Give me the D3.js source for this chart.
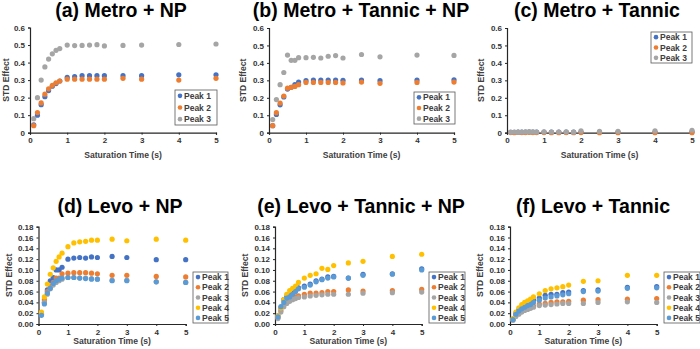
<!DOCTYPE html>
<html>
<head>
<meta charset="utf-8">
<script src="https://cdn.jsdelivr.net/npm/d3@7"></script>
<style>
  body { margin: 0; background: #fff; }
  text { font-family: "Liberation Sans", Arial, sans-serif; font-weight: bold; }
</style>
</head>
<body>
<script>
var width = 700;
var height = 349;

// saturation times (s)
var satTime = [0.1, 0.2, 0.3, 0.4, 0.5, 0.6, 0.7, 0.8, 1.0, 1.2, 1.4, 1.6, 1.8, 2.0, 2.5, 3, 4, 5];
var peakNames = ["Peak 1", "Peak 2", "Peak 3", "Peak 4", "Peak 5"];
var peakColors = ["#4472C4", "#ED7D31", "#A5A5A5", "#FFC000", "#5B9BD5"];
var xTicks = [0, 1, 2, 3, 4, 5];
var topYTicks = [0, 0.1, 0.2, 0.3, 0.4, 0.5, 0.6];
var bottomYTicks = [0, 0.02, 0.04, 0.06, 0.08, 0.10, 0.12, 0.14, 0.16, 0.18];

// (a) Metro + NP
var metroNP1 = [0.045, 0.1, 0.16, 0.205, 0.24, 0.265, 0.28, 0.295, 0.315, 0.32, 0.325, 0.325, 0.325, 0.325, 0.325, 0.325, 0.33, 0.33];
var metroNP2 = [0.04, 0.115, 0.17, 0.22, 0.25, 0.27, 0.285, 0.295, 0.305, 0.305, 0.305, 0.305, 0.305, 0.305, 0.31, 0.305, 0.3, 0.31];
var metroNP3 = [0.08, 0.2, 0.3, 0.375, 0.42, 0.45, 0.47, 0.48, 0.5, 0.497, 0.498, 0.5, 0.502, 0.495, 0.498, 0.5, 0.503, 0.506];

// (b) Metro + Tannic + NP
var metroTanNP1 = [0.04, 0.105, 0.16, 0.205, 0.25, 0.26, 0.275, 0.29, 0.298, 0.302, 0.302, 0.302, 0.302, 0.3, 0.302, 0.298, 0.302, 0.303];
var metroTanNP2 = [0.04, 0.115, 0.17, 0.21, 0.255, 0.26, 0.265, 0.275, 0.288, 0.288, 0.288, 0.288, 0.288, 0.285, 0.29, 0.283, 0.288, 0.29];
var metroTanNP3 = [0.075, 0.19, 0.275, 0.345, 0.445, 0.415, 0.415, 0.43, 0.43, 0.432, 0.428, 0.438, 0.442, 0.428, 0.448, 0.435, 0.445, 0.443];

// (c) Metro + Tannic
var metroTan1 = [0.002, 0.002, 0.003, 0.003, 0.004, 0.004, 0.004, 0.004, 0.004, 0.003, 0.003, 0.003, 0.003, 0.004, 0.004, 0.003, 0.004, 0.005];
var metroTan2 = [0.001, 0, 0.002, 0.001, 0.001, 0.002, 0.001, 0.001, 0.001, 0, 0, 0.001, 0, 0.001, 0, 0, 0, 0];
var metroTan3 = [0.003, 0.004, 0.003, 0.004, 0.005, 0.006, 0.005, 0.004, 0.005, 0.004, 0.004, 0.005, 0.003, 0.01, 0.008, 0.008, 0.01, 0.014];

// (d) Levo + NP
var levoNP1 = [0.018, 0.04, 0.063, 0.08, 0.086, 0.1, 0.1, 0.105, 0.12, 0.122, 0.123, 0.122, 0.124, 0.123, 0.125, 0.123, 0.119, 0.119];
var levoNP2 = [0.02, 0.045, 0.06, 0.07, 0.077, 0.085, 0.085, 0.093, 0.094, 0.095, 0.095, 0.095, 0.094, 0.093, 0.09, 0.09, 0.088, 0.087];
var levoNP3 = [0.018, 0.04, 0.055, 0.065, 0.072, 0.077, 0.08, 0.083, 0.086, 0.086, 0.085, 0.085, 0.084, 0.083, 0.081, 0.081, 0.078, 0.077];
var levoNP4 = [0.022, 0.05, 0.074, 0.092, 0.104, 0.116, 0.124, 0.131, 0.143, 0.15, 0.152, 0.153, 0.155, 0.155, 0.157, 0.154, 0.157, 0.155];
var levoNP5 = [0.016, 0.037, 0.057, 0.066, 0.075, 0.08, 0.083, 0.085, 0.086, 0.086, 0.085, 0.084, 0.083, 0.083, 0.08, 0.08, 0.078, 0.077];

// (e) Levo + Tannic + NP
var levoTanNP1 = [0.015, 0.03, 0.045, 0.05, 0.052, 0.058, 0.063, 0.067, 0.07, 0.074, 0.08, 0.083, 0.087, 0.088, 0.085, 0.092, 0.093, 0.102];
var levoTanNP2 = [0.012, 0.025, 0.035, 0.04, 0.045, 0.047, 0.05, 0.052, 0.055, 0.057, 0.057, 0.058, 0.06, 0.06, 0.063, 0.061, 0.062, 0.064];
var levoTanNP3 = [0.01, 0.022, 0.032, 0.038, 0.042, 0.045, 0.047, 0.049, 0.05, 0.052, 0.053, 0.054, 0.055, 0.055, 0.055, 0.057, 0.058, 0.059];
var levoTanNP4 = [0.015, 0.03, 0.045, 0.055, 0.062, 0.066, 0.07, 0.077, 0.085, 0.09, 0.093, 0.103, 0.101, 0.108, 0.113, 0.116, 0.125, 0.129];
var levoTanNP5 = [0.013, 0.032, 0.04, 0.048, 0.05, 0.055, 0.06, 0.065, 0.068, 0.072, 0.078, 0.082, 0.085, 0.087, 0.085, 0.09, 0.092, 0.1];

// (f) Levo + Tannic
var levoTan1 = [0.009, 0.02, 0.026, 0.03, 0.033, 0.036, 0.038, 0.044, 0.048, 0.053, 0.055, 0.055, 0.058, 0.059, 0.062, 0.063, 0.068, 0.069];
var levoTan2 = [0.008, 0.016, 0.02, 0.024, 0.027, 0.029, 0.031, 0.033, 0.037, 0.038, 0.04, 0.041, 0.041, 0.042, 0.044, 0.045, 0.046, 0.047];
var levoTan3 = [0.007, 0.014, 0.018, 0.022, 0.025, 0.027, 0.029, 0.031, 0.034, 0.035, 0.036, 0.037, 0.038, 0.038, 0.038, 0.04, 0.041, 0.04];
var levoTan4 = [0.01, 0.022, 0.03, 0.036, 0.04, 0.043, 0.046, 0.05, 0.056, 0.062, 0.065, 0.067, 0.069, 0.072, 0.079, 0.08, 0.09, 0.09];
var levoTan5 = [0.008, 0.018, 0.024, 0.028, 0.031, 0.034, 0.036, 0.04, 0.044, 0.048, 0.05, 0.052, 0.054, 0.056, 0.06, 0.061, 0.066, 0.067];

// panel layout: plot box (x0,x1,yTop,yBot), title centre, legend box, axis title offsets
var panels = [
  {title: "(a) Metro + NP", series: [metroNP1, metroNP2, metroNP3], ticks: topYTicks, fmt: d3.format(".1~f"),
   x0: 30, x1: 216, yTop: 27.5, yBot: 132.7, titleX: 121, titleY: 17, legX: 175, legY: 90, legW: 42, legH: 35, xLab: 25, yLab: 21.5},
  {title: "(b) Metro + Tannic + NP", series: [metroTanNP1, metroTanNP2, metroTanNP3], ticks: topYTicks, fmt: d3.format(".1~f"),
   x0: 269, x1: 454, yTop: 28, yBot: 132.7, titleX: 361, titleY: 17, legX: 414, legY: 92, legW: 41, legH: 32, xLab: 25, yLab: 23},
  {title: "(c) Metro + Tannic", series: [metroTan1, metroTan2, metroTan3], ticks: topYTicks, fmt: d3.format(".1~f"),
   x0: 507, x1: 692, yTop: 28, yBot: 132.7, titleX: 597, titleY: 17, legX: 651, legY: 32, legW: 41, legH: 31, xLab: 25, yLab: 23},
  {title: "(d) Levo + NP", series: [levoNP1, levoNP2, levoNP3, levoNP4, levoNP5], ticks: bottomYTicks, fmt: d3.format(".2f"),
   x0: 38.5, x1: 185.7, yTop: 226.7, yBot: 324, titleX: 120, titleY: 213, legX: 193, legY: 272, legW: 35, legH: 51, xLab: 20, yLab: 27},
  {title: "(e) Levo + Tannic + NP", series: [levoTanNP1, levoTanNP2, levoTanNP3, levoTanNP4, levoTanNP5], ticks: bottomYTicks, fmt: d3.format(".2f"),
   x0: 275, x1: 421.7, yTop: 226.7, yBot: 324, titleX: 361, titleY: 213, legX: 429, legY: 272, legW: 36, legH: 51, xLab: 20, yLab: 27},
  {title: "(f) Levo + Tannic", series: [levoTan1, levoTan2, levoTan3, levoTan4, levoTan5], ticks: bottomYTicks, fmt: d3.format(".2f"),
   x0: 510, x1: 656.7, yTop: 226.7, yBot: 324, titleX: 593, titleY: 213, legX: 664, legY: 272, legW: 36, legH: 51, xLab: 20, yLab: 27}
];

var svg = d3.select("body")
            .append("svg")
            .attr("width", width)
            .attr("height", height);

svg.append("rect").attr("width", width).attr("height", height).attr("fill", "#fff");

panels.forEach(function(p) {
  var g = svg.append("g");
  var yMax = p.ticks[p.ticks.length - 1];

  var xScale = d3.scaleLinear().domain([0, 5]).range([p.x0, p.x1]);
  var yScale = d3.scaleLinear().domain([0, yMax]).range([p.yBot, p.yTop]);

  // title
  g.append("text")
    .attr("x", p.titleX)
    .attr("y", p.titleY)
    .attr("text-anchor", "middle")
    .style("font-size", "19.5px")
    .attr("fill", "#000")
    .text(p.title);

  var xAxis = g.append("g")
    .attr("transform", `translate(0,${p.yBot})`)
    .call(d3.axisBottom(xScale).tickValues(xTicks).tickSize(2).tickPadding(3).tickFormat(d3.format("d")));

  var yAxis = g.append("g")
    .attr("transform", `translate(${p.x0},0)`)
    .call(d3.axisLeft(yScale).tickValues(p.ticks).tickSize(2).tickPadding(3).tickFormat(p.fmt));

  [xAxis, yAxis].forEach(function(ax) {
    ax.select(".domain").attr("stroke", "#262626").attr("stroke-width", 1.2);
    ax.selectAll(".tick line").attr("stroke", "#262626");
    ax.selectAll(".tick text")
      .style("font-size", "8px")
      .style("font-family", "'Liberation Sans', Arial, sans-serif")
      .style("font-weight", "bold")
      .attr("fill", "#333");
  });

  // axis titles
  g.append("text")
    .attr("x", (p.x0 + p.x1) / 2)
    .attr("y", p.yBot + p.xLab)
    .attr("text-anchor", "middle")
    .style("font-size", "8.6px")
    .attr("fill", "#404040")
    .text("Saturation Time (s)");

  g.append("text")
    .attr("transform", `translate(${p.x0 - p.yLab},${(p.yTop + p.yBot) / 2}) rotate(-90)`)
    .attr("text-anchor", "middle")
    .style("font-size", "8.6px")
    .attr("fill", "#404040")
    .text("STD Effect");

  // points
  p.series.forEach(function(vals, si) {
    g.append("g")
      .selectAll("circle")
      .data(vals)
      .join("circle")
        .attr("cx", (d, i) => xScale(satTime[i]))
        .attr("cy", d => yScale(d))
        .attr("r", 2.6)
        .attr("fill", peakColors[si]);
  });

  // legend
  var leg = g.append("g");
  leg.append("rect")
    .attr("x", p.legX)
    .attr("y", p.legY)
    .attr("width", p.legW)
    .attr("height", p.legH)
    .attr("fill", "#fff")
    .attr("stroke", "#595959")
    .attr("stroke-width", 0.8);

  var step = p.legH / p.series.length;
  p.series.forEach(function(vals, si) {
    var cy = p.legY + step * (si + 0.5);
    leg.append("circle")
      .attr("cx", p.legX + 5)
      .attr("cy", cy)
      .attr("r", 2.3)
      .attr("fill", peakColors[si]);
    leg.append("text")
      .attr("x", p.legX + 9)
      .attr("y", cy + 3)
      .style("font-size", "8.5px")
      .attr("fill", "#404040")
      .text(peakNames[si]);
  });
});
</script>
</body>
</html>
